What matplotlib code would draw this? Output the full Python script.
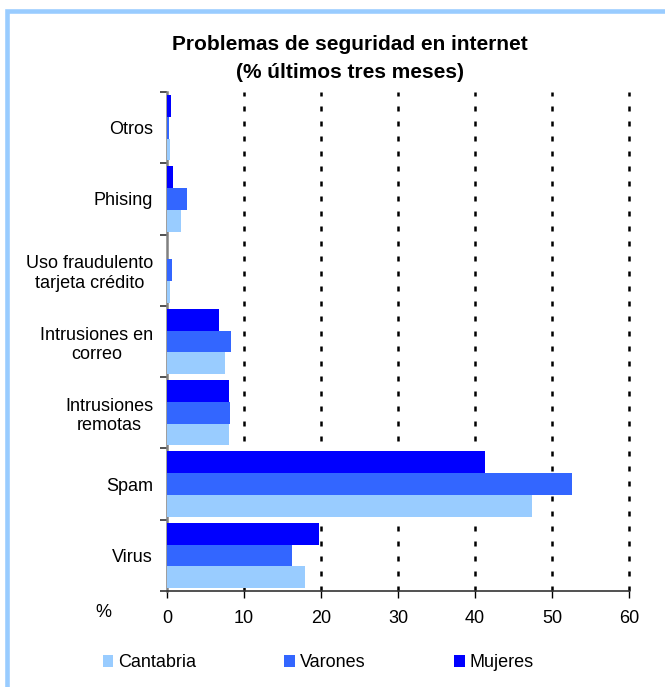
import numpy as np
import matplotlib.pyplot as plt
from matplotlib.patches import Rectangle

plt.rcParams['font.family'] = ['Liberation Sans', 'DejaVu Sans']

# categories from bottom to top
categorias = ['Virus', 'Spam', 'Intrusiones\nremotas', 'Intrusiones en\ncorreo',
              'Uso fraudulento\ntarjeta crédito', 'Phising', 'Otros']
cantabria = [17.9, 47.4, 8.0, 7.6, 0.4, 1.8, 0.4]
varones = [16.2, 52.6, 8.2, 8.3, 0.65, 2.6, 0.2]
mujeres = [19.8, 41.3, 8.0, 6.7, 0.0, 0.8, 0.5]
xticks = [0, 10, 20, 30, 40, 50, 60]

fig = plt.figure(figsize=(6.65, 6.87), dpi=100)
ax = fig.add_axes([0.2511, 0.1397, 0.6947, 0.7263])

y = np.arange(len(categorias))
h = 0.305
ax.barh(y - h, cantabria, height=h, color='#99CCFF', label='Cantabria', zorder=3)
ax.barh(y, varones, height=h, color='#3366FF', label='Varones', zorder=3)
ax.barh(y + h, mujeres, height=h, color='#0000FF', label='Mujeres', zorder=3)

for xv in xticks[1:]:
    ax.axvline(xv, color='black', lw=1.8, linestyle=(0, (2, 4)), zorder=1, clip_on=False)

ax.set_xlim(0, 60)
ax.set_ylim(-0.5, len(categorias) - 0.5)
ax.set_xticks(xticks)
ax.tick_params(axis='x', labelsize=13, length=5, width=1, direction='out', pad=9)

ax.set_yticks(np.arange(-0.5, len(categorias)), labels=[])
ax.set_yticks(y, labels=categorias, minor=True)
ax.tick_params(axis='y', which='major', length=5, width=1.2, color='#333333')
ax.tick_params(axis='y', which='minor', length=0, pad=10, labelsize=13)
for lab in ax.get_yticklabels(minor=True):
    lab.set_multialignment('center')

for s in ['top', 'right']:
    ax.spines[s].set_visible(False)
ax.spines['left'].set_color('#808080')
ax.spines['left'].set_linewidth(1.8)
ax.spines['bottom'].set_color('#333333')
ax.spines['bottom'].set_linewidth(1.2)

fig.text(0.526, 1 - 45 / 687, 'Problemas de seguridad en internet',
         ha='center', va='center', fontsize=15, fontweight='bold')
fig.text(0.526, 1 - 72 / 687, '(% últimos tres meses)',
         ha='center', va='center', fontsize=15, fontweight='bold')
fig.text(0.155, 0.109, '%', ha='center', va='center', fontsize=13)

handles, labels = ax.get_legend_handles_labels()
fig.legend(handles, labels, loc='center', bbox_to_anchor=(0.478, 0.035), ncol=3,
           frameon=False, fontsize=13, handlelength=0.6, handleheight=0.6,
           handletextpad=0.25, columnspacing=4.9, borderaxespad=0)

# light blue frame
fig.patches.append(Rectangle((7 / 665, -0.05), 1.2, (687 - 10.5) / 687 + 0.05,
                             transform=fig.transFigure, fill=False,
                             edgecolor='#99CCFF', lw=3.3, zorder=0))

fig.savefig('out.png', dpi=100)
